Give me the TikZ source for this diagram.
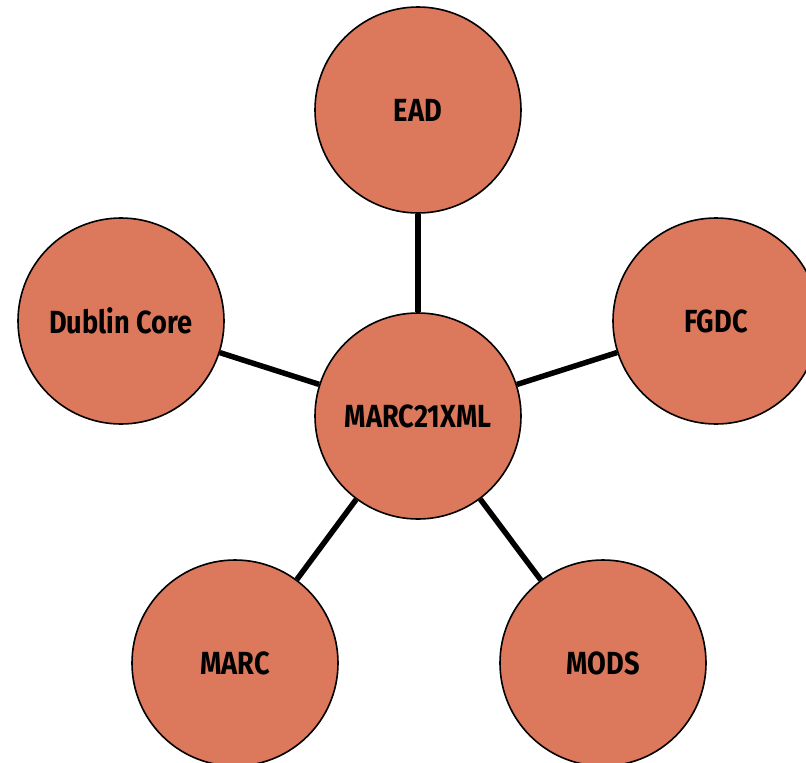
\documentclass[tikz,border=0pt]{standalone}
\usepackage{fontspec}
\setmainfont{Fira Sans}[FakeStretch=0.85]
\definecolor{bubble}{RGB}{220,120,92}
\begin{document}
\begin{tikzpicture}[x=1pt,y=-1pt,
  bub/.style={circle,draw=black,line width=1.6pt,fill=bubble,minimum size=206pt,inner sep=0pt,
    font=\fontsize{32}{34}\selectfont\bfseries},
  link/.style={line width=5.5pt,draw=black}]
\useasboundingbox (0,0) rectangle (806,763);
\begin{scope}
\clip (0,0) rectangle (806,763);
\node[bub] (c) at (418,416) {MARC21XML};
\node[bub] (ead) at (418,110) {EAD};
\node[bub] (fgdc) at (716,321) {FGDC};
\node[bub] (dc) at (121,321) {Dublin Core};
\node[bub] (marc) at (235,663) {MARC};
\node[bub] (mods) at (603,663) {MODS};
\draw[link] (c) -- (ead);
\draw[link] (c) -- (fgdc);
\draw[link] (c) -- (dc);
\draw[link] (c) -- (marc);
\draw[link] (c) -- (mods);
\end{scope}
\end{tikzpicture}
\end{document}
